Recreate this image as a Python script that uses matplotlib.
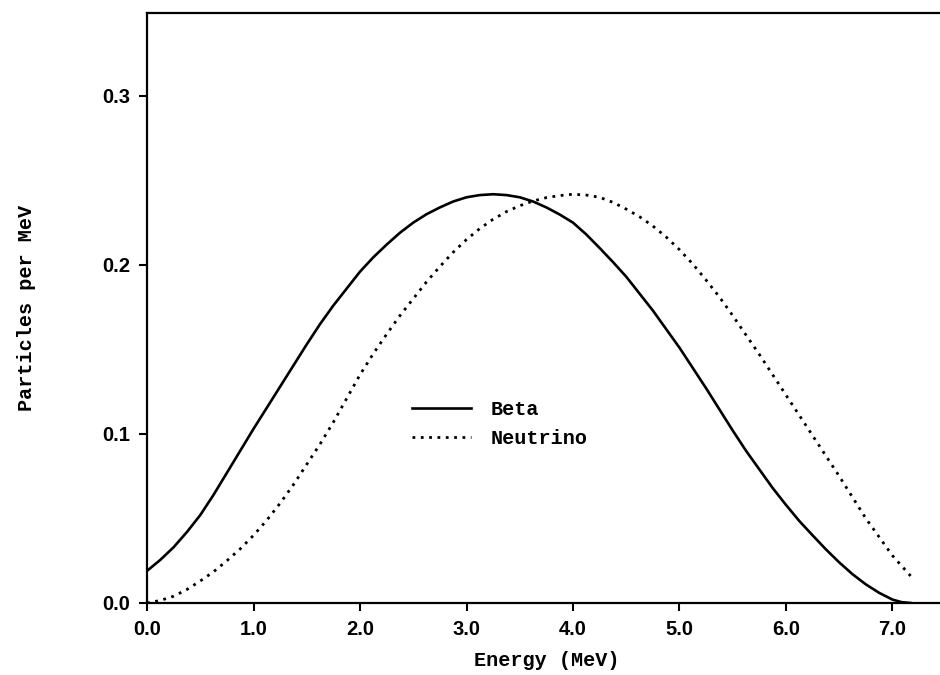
import matplotlib
matplotlib.use("Agg")
import matplotlib.pyplot as plt

# energies in MeV, spectra
energy = [0.0, 0.125, 0.25, 0.375, 0.5, 0.625, 0.75, 0.875, 1.0, 1.125, 1.25,
          1.375, 1.5, 1.625, 1.75, 1.875, 2.0, 2.125, 2.25, 2.375, 2.5, 2.625,
          2.75, 2.875, 3.0, 3.125, 3.25, 3.375, 3.5, 3.625, 3.75, 3.875, 4.0,
          4.125, 4.25, 4.375, 4.5, 4.625, 4.75, 4.875, 5.0, 5.125, 5.25, 5.375,
          5.5, 5.625, 5.75, 5.875, 6.0, 6.125, 6.25, 6.375, 6.5, 6.625, 6.75,
          6.875, 7.0, 7.085, 7.17]
beta = [0.019, 0.0255, 0.033, 0.042, 0.052, 0.064, 0.077, 0.090, 0.103, 0.1155,
        0.128, 0.1405, 0.153, 0.165, 0.176, 0.186, 0.196, 0.2045, 0.212, 0.219,
        0.225, 0.230, 0.234, 0.2375, 0.240, 0.2413, 0.2418, 0.2413, 0.240,
        0.2375, 0.234, 0.2298, 0.225, 0.218, 0.210, 0.2017, 0.193, 0.183, 0.173,
        0.162, 0.151, 0.139, 0.127, 0.1145, 0.102, 0.090, 0.079, 0.068, 0.058,
        0.0485, 0.040, 0.0317, 0.024, 0.017, 0.011, 0.006, 0.002, 0.0005, 0.0]
neutrino = [0.0, 0.0015, 0.004, 0.008, 0.013, 0.0185, 0.025, 0.032, 0.040, 0.049,
            0.059, 0.070, 0.082, 0.094, 0.107, 0.121, 0.135, 0.1475, 0.159,
            0.170, 0.180, 0.190, 0.199, 0.2075, 0.215, 0.2215, 0.227, 0.2315,
            0.235, 0.2378, 0.2398, 0.241, 0.2418, 0.2413, 0.240, 0.237, 0.233,
            0.2285, 0.223, 0.2165, 0.209, 0.2005, 0.191, 0.181, 0.170, 0.1585,
            0.147, 0.135, 0.123, 0.111, 0.099, 0.087, 0.075, 0.0625, 0.050,
            0.039, 0.028, 0.022, 0.016]

x_ticks = [0, 1, 2, 3, 4, 5, 6, 7]
x_labels = ["0.0", "1.0", "2.0", "3.0", "4.0", "5.0", "6.0", "7.0"]
y_ticks = [0.0, 0.1, 0.2, 0.3]
y_labels = ["0.0", "0.1", "0.2", "0.3"]

MONO = "Liberation Mono"
SANS = "Liberation Sans"

fig = plt.figure(figsize=(9.4, 6.75), dpi=100)
ax = fig.add_axes([0.1564, 0.1067, 0.8497, 0.874])

ax.plot(energy, beta, color="black", lw=1.9, solid_joinstyle="round", label="Beta")
ax.plot(energy, neutrino, color="black", lw=2.0, linestyle=(0, (1, 2)), label="Neutrino")

ax.set_xlim(0, 7.5)
ax.set_ylim(0, 0.349)
ax.set_xticks(x_ticks)
ax.set_xticklabels(x_labels)
ax.set_yticks(y_ticks)
ax.set_yticklabels(y_labels)
for lab in ax.get_xticklabels() + ax.get_yticklabels():
    lab.set_fontfamily(SANS)
    lab.set_fontweight("bold")
    lab.set_fontsize(14.5)
ax.tick_params(direction="out", length=6, width=1.5, colors="black", pad=6)

for side in ("left", "bottom", "top"):
    ax.spines[side].set_linewidth(1.6)
ax.spines["right"].set_visible(False)

ax.set_xlabel("Energy (MeV)", family=MONO, fontweight="bold", fontsize=14.5, labelpad=9)
ax.set_ylabel("Particles per MeV", family=MONO, fontweight="bold", fontsize=14.5, labelpad=48)

ax.legend(loc="center left", bbox_to_anchor=(0.332, 0.303), frameon=False,
          borderpad=0, borderaxespad=0, handlelength=2.9, handletextpad=1.0,
          labelspacing=0.5, prop={"family": MONO, "weight": "bold", "size": 14.5})

fig.savefig("out.png", dpi=100)
